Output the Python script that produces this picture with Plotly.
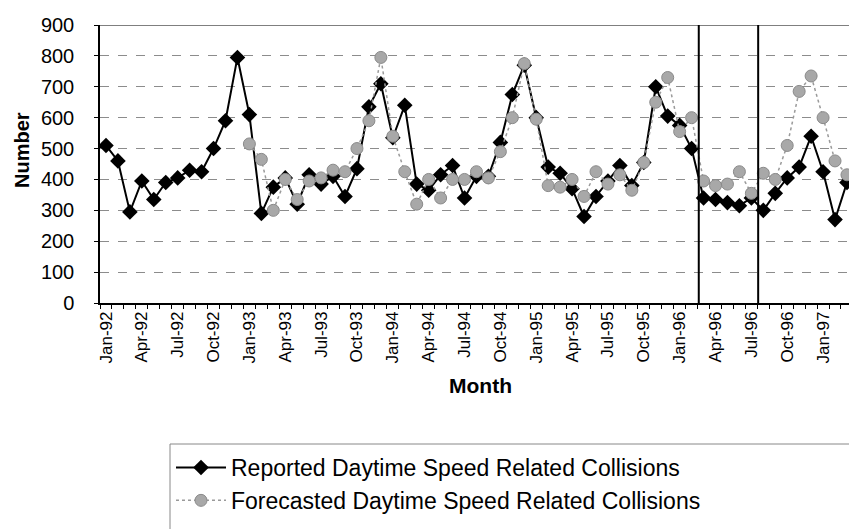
import plotly.graph_objects as go

# ---------------- data ----------------
months = ["Jan", "Feb", "Mar", "Apr", "May", "Jun", "Jul", "Aug", "Sep", "Oct", "Nov", "Dec"]
years = ["92", "93", "94", "95", "96", "97"]
month_labels = [f"{m}-{y}" for y in years for m in months][:63]   # Jan-92 .. Mar-97

reported = [
    510, 460, 295, 395, 335, 390, 405, 430, 425, 500, 590, 795,   # 1992
    610, 290, 375, 405, 320, 415, 385, 410, 345, 435, 635, 710,   # 1993
    535, 640, 385, 365, 415, 445, 340, 410, 410, 520, 675, 770,   # 1994
    600, 440, 420, 370, 280, 345, 395, 445, 380, 455, 700, 605,   # 1995
    575, 500, 340, 335, 325, 315, 340, 300, 355, 405, 440, 540,   # 1996
    425, 270, 390,                                                # 1997
]

forecast = [None] * 12 + [
    515, 465, 300, 400, 335, 395, 405, 430, 425, 500, 590, 795,   # 1993
    540, 425, 320, 400, 340, 400, 400, 425, 405, 490, 600, 775,   # 1994
    595, 380, 375, 400, 345, 425, 385, 415, 365, 455, 650, 730,   # 1995
    555, 600, 395, 380, 385, 425, 355, 420, 400, 510, 685, 735,   # 1996
    600, 460, 415,                                                # 1997
]

tick_labels = [month_labels[i] for i in range(0, 63, 3)]
tick_positions = list(range(0, 63, 3))
y_ticks = list(range(0, 901, 100))
event_lines = [49.6, 54.57]   # vertical markers (category-index units)

x_idx = list(range(len(month_labels)))

FONT = "Arial, Liberation Sans, sans-serif"

fig = go.Figure()
fig.add_trace(go.Scatter(
    x=x_idx, y=reported, mode="lines+markers",
    name="Reported Daytime Speed Related Collisions",
    legendgroup="a",
    line=dict(color="black", width=2),
    marker=dict(symbol="diamond", size=12, color="black"),
    hovertext=month_labels,
))
fig.add_trace(go.Scatter(
    x=x_idx, y=forecast, mode="lines+markers",
    name="Forecasted Daytime Speed Related Collisions",
    legendgroup="b",
    line=dict(color="#9a9a9a", width=1.5, dash="dot"),
    marker=dict(symbol="circle", size=12, color="#a8a8a8",
                line=dict(color="#8a8a8a", width=1)),
    hovertext=month_labels,
    connectgaps=False,
))

W, H = 849, 529
L, R, T, B = 100, 0, 25, 226
pw, ph = W - L - R, H - T - B

def px_x(px):
    return (px - L) / pw

def px_y(py):
    return (H - B - py) / ph

shapes = [dict(type="line", xref="paper", yref="y", x0=0, x1=1, y0=900, y1=900,
               line=dict(color="#555", width=1.5), layer="above")]
for xv in event_lines:
    shapes.append(dict(type="line", xref="x", yref="y", x0=xv, x1=xv, y0=0, y1=900,
                       line=dict(color="black", width=2), layer="above"))
# legend frame (extends past the right edge, as in the original)
shapes.append(dict(type="rect", xref="paper", yref="paper",
                   x0=px_x(170), x1=px_x(880), y0=px_y(444), y1=px_y(545),
                   line=dict(color="#888", width=1), fillcolor="rgba(0,0,0,0)"))

fig.update_layout(
    width=W, height=H, autosize=False,
    margin=dict(l=L, r=R, t=T, b=B, pad=0),
    paper_bgcolor="white", plot_bgcolor="white",
    font=dict(family=FONT, color="black"),
    shapes=shapes,
    showlegend=True,
    legend=dict(
        x=px_x(171), y=px_y(446), xanchor="left", yanchor="top",
        borderwidth=0, bgcolor="rgba(0,0,0,0)",
        font=dict(size=23, family=FONT),
        itemwidth=50, traceorder="grouped", tracegroupgap=0,
    ),
    annotations=[
        dict(text="<b>Number</b>", textangle=-90, xref="paper", yref="paper",
             x=px_x(22), y=px_y(150), xanchor="center", yanchor="middle",
             showarrow=False, font=dict(size=20, family=FONT)),
        dict(text="<b>Month</b>", xref="paper", yref="paper",
             x=px_x(480), y=px_y(385), xanchor="center", yanchor="middle",
             showarrow=False, font=dict(size=21, family=FONT)),
    ],
)

fig.update_xaxes(
    range=[-0.5, 62.17], tickmode="array", tickvals=tick_positions, ticktext=tick_labels,
    tickangle=-90, tickfont=dict(size=17, family=FONT),
    ticks="", showgrid=False, zeroline=False,
    showline=True, linecolor="black", linewidth=1.5,
    minor=dict(tickmode="linear", tick0=-0.5, dtick=1, ticks="outside",
               ticklen=4, tickcolor="black", tickwidth=1, showgrid=False),
)
fig.update_yaxes(
    range=[0, 900], tickmode="array", tickvals=y_ticks,
    tickfont=dict(size=20, family=FONT),
    ticks="outside", ticklen=4, tickcolor="black", ticklabelstandoff=16,
    showgrid=True, gridcolor="#8c8c8c", griddash="dash", gridwidth=1,
    zeroline=False, showline=True, linecolor="black", linewidth=1.5,
)

fig.write_html("out.html")
